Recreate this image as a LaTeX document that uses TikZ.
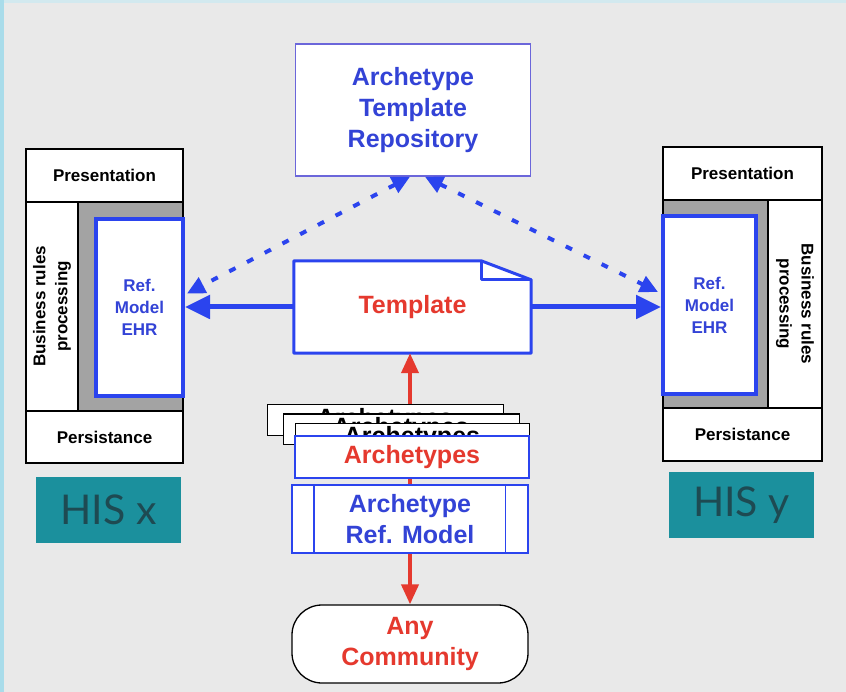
\documentclass[tikz,border=0pt]{standalone}
\usepackage{fontspec}
\setmainfont{Liberation Sans}
\newfontfamily\hisfont{Lato}
\usetikzlibrary{calc,arrows.meta}
\definecolor{bgGrey}{HTML}{E9E9E9}
\definecolor{stripBlue}{HTML}{A9DCEA}
\definecolor{topBlue}{HTML}{D2E9EF}
\definecolor{ehrBlue}{HTML}{2B44EE}
\definecolor{txtBlue}{HTML}{3343D6}
\definecolor{repoLine}{HTML}{6B66DA}
\definecolor{txtRed}{HTML}{E5392E}
\definecolor{bandGrey}{HTML}{A3A3A3}
\definecolor{hisTeal}{HTML}{1B909D}
\definecolor{hisText}{HTML}{1E4A52}

\begin{document}
\begin{tikzpicture}[x=1pt,y=-1pt,
  big/.style={font=\fontsize{25}{31}\selectfont\bfseries, align=center, inner sep=0pt},
  small/.style={font=\fontsize{17}{22}\selectfont\bfseries, align=center, inner sep=0pt},
  layerbox/.style={small, draw=black, line width=1.3pt, fill=white},
  ehrbox/.style={small, draw=ehrBlue, line width=4pt, fill=white, text=txtBlue},
  hislabel/.style={fill=hisTeal, minimum width=145pt, minimum height=66pt,
    font=\hisfont\fontsize{41}{41}\selectfont, text=hisText},
  sheet/.style={big, draw=black, line width=1pt, fill=white, minimum width=236pt,
    minimum height=30pt},
  solidarrow/.style={draw=ehrBlue, line width=5pt, -{Triangle[length=25pt,width=23pt]}},
  dasharrow/.style={draw=ehrBlue, line width=4pt, dash pattern=on 7pt off 13pt,
    {Triangle[length=18pt,width=17pt]}-{Triangle[length=18pt,width=17pt]}},
  redarrow/.style={draw=txtRed, line width=4pt, -{Triangle[length=20pt,width=17pt]}}]

  \useasboundingbox (0,0) rectangle (846,692);
  \fill[bgGrey] (0,0) rectangle (846,692);
  \fill[topBlue] (0,0) rectangle (846,3);
  \fill[stripBlue] (0,0) rectangle (4,692);

  \node (repo) at (413,110) [big, draw=repoLine, line width=1.5pt, fill=white,
    text=txtBlue, minimum width=235pt, minimum height=132pt]
    {Archetype\\Template\\Repository};

  \node (tpl) at (412.5,307) [big, text=txtRed,
    minimum width=237pt, minimum height=92pt] {};
  \draw[ehrBlue, fill=white, line width=3pt, line join=round] (tpl.south west) -- (tpl.north west)
    -- ($(tpl.north east)+(-50,0)$) -- ($(tpl.north east)+(0,19)$)
    -- (tpl.south east) -- cycle;
  \draw[ehrBlue, line width=3pt, line join=round] ($(tpl.north east)+(-50,0)$)
    -- ($(tpl.north east)+(-50,19)$) -- ($(tpl.north east)+(0,19)$);
  \node at (tpl) [big, text=txtRed] {Template};

  \node (presL) at (104.5,175.5) [layerbox, minimum width=157pt, minimum height=53pt] {Presentation};
  \node (bizL) at (52,306.5) [layerbox, minimum width=52pt, minimum height=209pt] {};
  \node at (bizL) [small, rotate=90] {Business rules\\processing};
  \node (greyL) at (130.5,306.5) [draw=black, line width=1.3pt, fill=bandGrey,
    minimum width=105pt, minimum height=209pt] {};
  \node (refL) at (139.5,307.5) [ehrbox, minimum width=87pt, minimum height=177pt] {Ref.\\Model\\EHR};
  \node (persL) at (104.5,437) [layerbox, minimum width=157pt, minimum height=52pt] {Persistance};
  \node (hisx) at (108.5,510) [hislabel] {HIS x};

  \node (presR) at (742.5,173.5) [layerbox, minimum width=159pt, minimum height=53pt] {Presentation};
  \node (bizR) at (795,304) [layerbox, minimum width=54pt, minimum height=208pt] {};
  \node at (bizR) [small, rotate=-90] {Business rules\\processing};
  \node (greyR) at (715.5,304) [draw=black, line width=1.3pt, fill=bandGrey,
    minimum width=105pt, minimum height=208pt] {};
  \node (refR) at (709.5,305) [ehrbox, minimum width=93pt, minimum height=178pt] {Ref.\\Model\\EHR};
  \node (persR) at (742.5,434.5) [layerbox, minimum width=159pt, minimum height=53pt] {Persistance};
  \node (hisy) at (741.5,505) [hislabel] {HIS y};

  \node (refm) at (410,519) [big, draw=ehrBlue, line width=2.5pt, fill=white, text=txtBlue,
    minimum width=236pt, minimum height=68pt] {Archetype\\Ref. Model};
  \draw[ehrBlue, line width=1.5pt] ($(refm.north west)+(23,0)$) -- ($(refm.south west)+(23,0)$);
  \draw[ehrBlue, line width=1.5pt] ($(refm.north east)+(-24,0)$) -- ($(refm.south east)+(-24,0)$);

  \node (comm) at (410,644) [big, draw=black, line width=1.3pt, fill=white, text=txtRed,
    rounded corners=30pt, minimum width=236pt, minimum height=78pt] {Any\\Community};

  \draw[redarrow] (refm.north) -- (refm.north |- tpl.south);
  \draw[redarrow] (refm.south) -- (comm.north);

  \node (sheetA) at (385,420) [sheet] {Archetypes};
  \node (sheetB) at (401,429) [sheet] {Archetypes};
  \node (sheetC) at (412,438) [sheet, minimum width=234pt] {Archetypes};
  \node (arch) at (412,457) [big, draw=ehrBlue, line width=2.5pt, fill=white, text=txtRed,
    minimum width=234pt, minimum height=42pt] {Archetypes};

  \draw[solidarrow] (tpl.west) -- (tpl.west -| refL.east);
  \draw[solidarrow] (tpl.east) -- (tpl.east -| refR.west);
  \draw[dasharrow] ($(repo.south)+(-3,0)$) -- ($(refL.east)+(2,-14)$);
  \draw[dasharrow] ($(repo.south)+(12,0)$) -- ($(refR.west)+(-3,-13)$);
\end{tikzpicture}
\end{document}
